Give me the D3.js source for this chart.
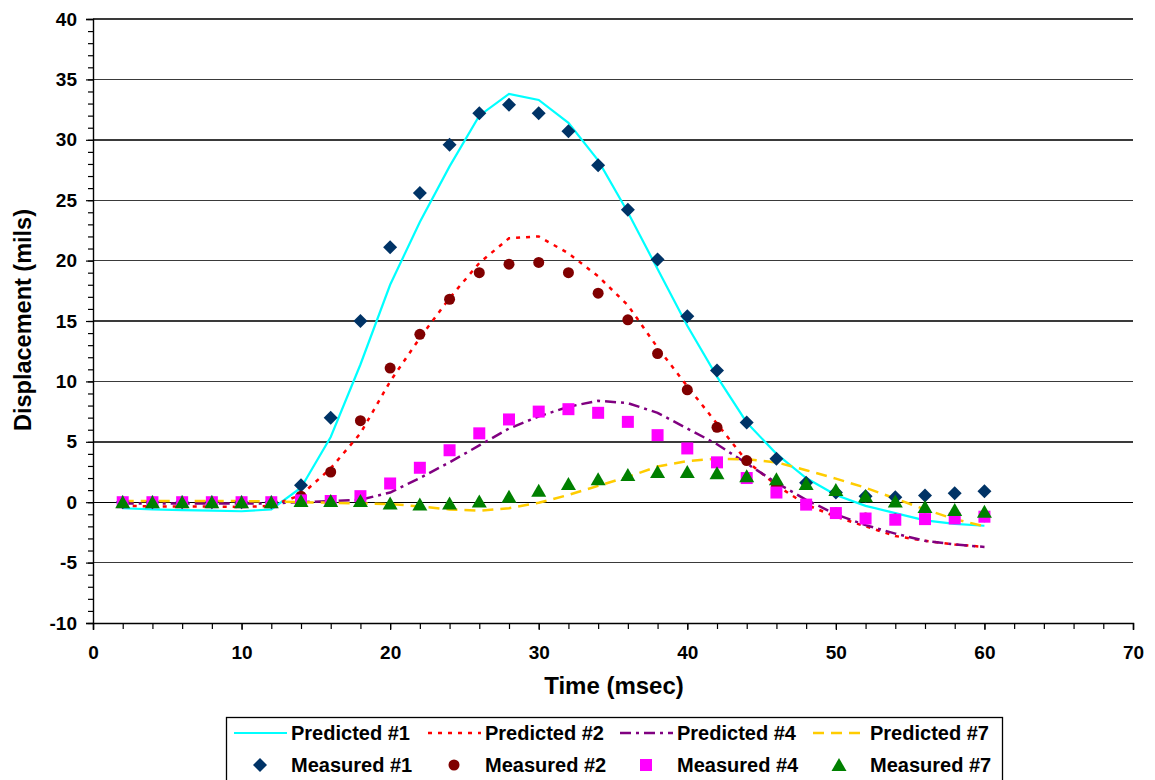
<!DOCTYPE html>
<html>
<head>
<meta charset="utf-8">
<script src="https://cdn.jsdelivr.net/npm/d3@7"></script>
<style>
  html, body { margin: 0; padding: 0; background: #fff; }
  svg { display: block; font-family: "Liberation Sans", Arial, sans-serif; }
</style>
</head>
<body>
<svg id="chart" width="1155" height="780"></svg>
<script>
// ---- data ----
const time = [2,4,6,8,10,12,14,16,18,20,22,24,26,28,30,32,34,36,38,40,42,44,46,48,50,52,54,56,58,60];

const predicted1 = [-0.5,-0.6,-0.65,-0.7,-0.75,-0.6,1.2,5.4,11.4,18.0,23.2,27.8,32.0,33.8,33.3,31.4,28.3,24.0,19.3,14.6,10.4,6.6,4.0,2.0,0.6,-0.3,-0.9,-1.5,-1.8,-1.95];
const predicted2 = [-0.3,-0.35,-0.35,-0.35,-0.4,-0.3,0.6,2.8,5.7,10.0,13.6,16.9,19.8,21.85,22.0,20.6,18.7,16.3,12.8,9.6,6.5,3.4,1.4,-0.2,-1.2,-2.0,-2.8,-3.2,-3.5,-3.7];
const predicted4 = [-0.1,-0.1,-0.1,-0.1,-0.1,-0.1,0.0,0.1,0.2,0.8,2.0,3.3,4.7,6.1,7.1,7.9,8.4,8.2,7.4,6.1,4.8,3.2,1.6,0.2,-1.0,-1.9,-2.6,-3.2,-3.5,-3.7];
const predicted7 = [0.1,0.1,0.1,0.1,0.1,0.05,0.0,-0.05,-0.1,-0.15,-0.35,-0.6,-0.7,-0.5,-0.05,0.6,1.35,2.1,2.95,3.4,3.6,3.55,3.3,2.65,1.95,1.2,0.3,-0.6,-1.4,-2.0];

const measured1 = [0,0,0,0,0,0,1.4,7.0,15.0,21.1,25.6,29.6,32.2,32.9,32.2,30.7,27.9,24.2,20.1,15.4,10.9,6.6,3.6,1.6,0.8,0.5,0.4,0.55,0.75,0.9];
const measured2 = [0,0,0,0,0,0,0.5,2.5,6.75,11.1,13.9,16.8,19.0,19.7,19.85,19.0,17.3,15.1,12.3,9.3,6.2,3.45,1.3,-0.2,-0.9,-1.3,-1.4,-1.4,-1.3,-1.2];
const measured4 = [0,0,0,0,0,0,0.15,0.1,0.5,1.55,2.85,4.3,5.7,6.85,7.5,7.7,7.4,6.65,5.55,4.45,3.3,2.0,0.8,-0.2,-0.9,-1.35,-1.45,-1.4,-1.35,-1.2];
const measured7 = [0,0,0,0,0,0,0.1,0.1,0.1,-0.1,-0.2,-0.1,0.05,0.45,0.95,1.5,1.9,2.25,2.5,2.5,2.4,2.15,1.9,1.5,1.0,0.5,0.05,-0.4,-0.65,-0.8];

const xTicks = [0,10,20,30,40,50,60,70];
const yTicks = [-10,-5,0,5,10,15,20,25,30,35,40];
const xTitle = "Time (msec)";
const yTitle = "Displacement (mils)";

const lineSeries = [
  {name: "Predicted #1", values: predicted1, color: "#00FFFF", dash: null, width: 2.2},
  {name: "Predicted #2", values: predicted2, color: "#FF0000", dash: "4,6", width: 2.5},
  {name: "Predicted #4", values: predicted4, color: "#800080", dash: "11,5,3,5", width: 2.5},
  {name: "Predicted #7", values: predicted7, color: "#FFCC00", dash: "11,7", width: 2.5}
];
const markerSeries = [
  {name: "Measured #1", values: measured1, color: "#003366", shape: "diamond"},
  {name: "Measured #2", values: measured2, color: "#800000", shape: "circle"},
  {name: "Measured #4", values: measured4, color: "#FF00FF", shape: "square"},
  {name: "Measured #7", values: measured7, color: "#008000", shape: "triangle"}
];

// ---- layout ----
const svg = d3.select("#chart");
const x = d3.scaleLinear().domain([0, 70]).range([93, 1133]);
const y = d3.scaleLinear().domain([-10, 40]).range([623, 19]);
const fmt = d => String(d);

const shapes = {
  diamond: "M0,-7L7,0L0,7L-7,0Z",
  circle: null,
  square: "M-6,-6H6V6H-6Z",
  triangle: "M0,-7L7.5,6L-7.5,6Z"
};
function drawMarker(g, shape, color) {
  if (shape === "circle") {
    g.append("circle").attr("r", 5.5).attr("fill", color);
  } else {
    g.append("path").attr("d", shapes[shape]).attr("fill", color);
  }
}

// gridlines
svg.append("g").selectAll("line").data(yTicks.filter(v => v > -10)).join("line")
  .attr("x1", x(0)).attr("x2", x(70))
  .attr("y1", d => y(d)).attr("y2", d => y(d))
  .attr("stroke", d => d === 0 ? "#000" : "#3a3a3a")
  .attr("stroke-width", 1.4)
  .attr("shape-rendering", "crispEdges");

// y axis
const yAxisMinor = d3.axisLeft(y).tickValues(d3.range(-10, 41, 1)).tickSize(5).tickFormat("");
const gyMinor = svg.append("g").attr("transform", `translate(${x(0)},0)`).call(yAxisMinor);
const yAxis = d3.axisLeft(y).tickValues(yTicks).tickSize(7).tickPadding(9).tickFormat(fmt);
const gy = svg.append("g").attr("transform", `translate(${x(0)},0)`).call(yAxis);
gyMinor.select(".domain").remove();
[gy, gyMinor].forEach(g => {
  g.selectAll("line").attr("stroke", "#000").attr("stroke-width", 1.2);
  g.selectAll(".domain").attr("stroke", "#000").attr("stroke-width", 1.4);
});
gy.selectAll("text").attr("font-size", 19).attr("font-weight", "bold").attr("fill", "#000")
  .attr("font-family", "Liberation Sans, Arial, sans-serif");

// x axis
const xAxisMinor = d3.axisBottom(x).tickValues(d3.range(0, 71, 2)).tickSize(6).tickFormat("");
const gxMinor = svg.append("g").attr("transform", `translate(0,${y(-10)})`).call(xAxisMinor);
const xAxis = d3.axisBottom(x).tickValues(xTicks).tickSize(7).tickPadding(16).tickFormat(fmt);
const gx = svg.append("g").attr("transform", `translate(0,${y(-10)})`).call(xAxis);
gxMinor.select(".domain").remove();
[gx, gxMinor].forEach(g => {
  g.selectAll("line").attr("stroke", "#000").attr("stroke-width", 1.2);
  g.selectAll(".domain").attr("stroke", "#000").attr("stroke-width", 1.4);
});
gx.selectAll("text").attr("font-size", 19).attr("font-weight", "bold").attr("fill", "#000")
  .attr("font-family", "Liberation Sans, Arial, sans-serif");

// axis titles
svg.append("text").attr("x", 614).attr("y", 694).attr("text-anchor", "middle")
  .attr("font-size", 24).attr("font-weight", "bold").text(xTitle);
svg.append("text").attr("transform", "translate(31,320) rotate(-90)").attr("text-anchor", "middle")
  .attr("font-size", 23.5).attr("font-weight", "bold").text(yTitle);

// lines
const lineGen = vals => d3.line().x((d, i) => x(time[i])).y(d => y(d))(vals);
svg.append("g").selectAll("path").data(lineSeries).join("path")
  .attr("d", d => lineGen(d.values))
  .attr("fill", "none")
  .attr("stroke", d => d.color)
  .attr("stroke-width", d => d.width)
  .attr("stroke-dasharray", d => d.dash);

// markers
markerSeries.forEach(s => {
  const g = svg.append("g");
  s.values.forEach((v, i) => {
    const m = g.append("g").attr("transform", `translate(${x(time[i])},${y(v)})`);
    drawMarker(m, s.shape, s.color);
  });
});

// legend
const legend = svg.append("g");
legend.append("rect").attr("x", 226.5).attr("y", 717.5).attr("width", 776).attr("height", 70)
  .attr("fill", "#fff").attr("stroke", "#000").attr("stroke-width", 1.3);
const colX = [234, 428, 620, 813];
lineSeries.forEach((s, i) => {
  const g = legend.append("g").attr("transform", `translate(${colX[i]},733)`);
  g.append("line").attr("x1", 0).attr("x2", 53).attr("y1", 0).attr("y2", 0)
    .attr("stroke", s.color).attr("stroke-width", s.width).attr("stroke-dasharray", s.dash);
  g.append("text").attr("x", 57).attr("y", 7).attr("font-size", 20).attr("font-weight", "bold").text(s.name);
});
markerSeries.forEach((s, i) => {
  const g = legend.append("g").attr("transform", `translate(${colX[i]},765)`);
  const m = g.append("g").attr("transform", "translate(26,0)");
  drawMarker(m, s.shape, s.color);
  g.append("text").attr("x", 57).attr("y", 7).attr("font-size", 20).attr("font-weight", "bold").text(s.name);
});
</script>
</body>
</html>
